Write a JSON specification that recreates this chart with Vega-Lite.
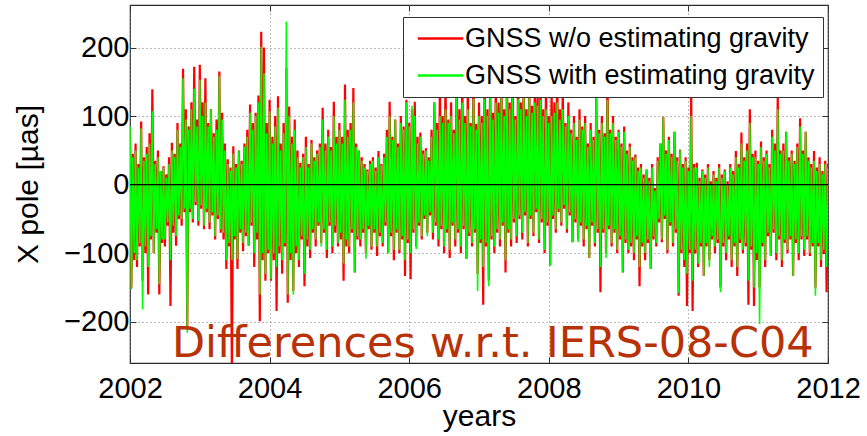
{
"$schema": "https://vega.github.io/schema/vega-lite/v6.json",
"width": 698, "height": 358,
"autosize": {"type": "none"},
"padding": {"left": 130, "top": 5, "right": 39, "bottom": 73},
"background": "white",
"config": {"view": {"stroke": "#2a2a2a", "strokeWidth": 1.2}, "font": "Liberation Sans"},
"data": {"values": [
{"t":2002.00,"r":78,"g":85},{"t":2002.04,"r":45,"g":40},{"t":2002.08,"r":60,"g":50},{"t":2002.12,"r":30,"g":25},{"t":2002.16,"r":92,"g":82},
{"t":2002.20,"r":40,"g":35},{"t":2002.24,"r":55,"g":45},{"t":2002.28,"r":75,"g":60},{"t":2002.32,"r":139,"g":107},{"t":2002.36,"r":35,"g":30},
{"t":2002.40,"r":50,"g":40},{"t":2002.44,"r":20,"g":20},{"t":2002.48,"r":27,"g":25},{"t":2002.52,"r":15,"g":10},{"t":2002.56,"r":40,"g":30},
{"t":2002.60,"r":61,"g":50},{"t":2002.64,"r":45,"g":40},{"t":2002.68,"r":90,"g":80},{"t":2002.72,"r":60,"g":55},{"t":2002.76,"r":169,"g":155},
{"t":2002.80,"r":110,"g":95},{"t":2002.84,"r":85,"g":80},{"t":2002.88,"r":120,"g":110},{"t":2002.92,"r":172,"g":140},{"t":2002.96,"r":95,"g":85},
{"t":2003.00,"r":175,"g":153},{"t":2003.04,"r":120,"g":100},{"t":2003.08,"r":155,"g":120},{"t":2003.12,"r":90,"g":85},{"t":2003.16,"r":110,"g":110},
{"t":2003.20,"r":75,"g":70},{"t":2003.24,"r":95,"g":80},{"t":2003.28,"r":165,"g":158},{"t":2003.32,"r":105,"g":95},{"t":2003.36,"r":60,"g":50},
{"t":2003.40,"r":37,"g":30},{"t":2003.44,"r":25,"g":20},{"t":2003.48,"r":56,"g":45},{"t":2003.52,"r":30,"g":25},{"t":2003.56,"r":50,"g":49},
{"t":2003.60,"r":35,"g":30},{"t":2003.64,"r":60,"g":55},{"t":2003.68,"r":80,"g":70},{"t":2003.72,"r":117,"g":105},{"t":2003.76,"r":90,"g":80},
{"t":2003.80,"r":105,"g":100},{"t":2003.84,"r":130,"g":120},{"t":2003.88,"r":223,"g":201},{"t":2003.92,"r":200,"g":162},{"t":2003.96,"r":90,"g":75},
{"t":2004.00,"r":124,"g":107},{"t":2004.04,"r":70,"g":60},{"t":2004.08,"r":100,"g":85},{"t":2004.12,"r":129,"g":112},{"t":2004.16,"r":60,"g":50},
{"t":2004.20,"r":90,"g":75},{"t":2004.24,"r":170,"g":238},{"t":2004.28,"r":114,"g":100},{"t":2004.32,"r":70,"g":60},{"t":2004.36,"r":95,"g":80},
{"t":2004.40,"r":50,"g":40},{"t":2004.44,"r":32,"g":25},{"t":2004.48,"r":45,"g":40},{"t":2004.52,"r":70,"g":55},{"t":2004.56,"r":30,"g":25},
{"t":2004.60,"r":65,"g":60},{"t":2004.64,"r":40,"g":35},{"t":2004.68,"r":50,"g":45},{"t":2004.72,"r":60,"g":55},{"t":2004.76,"r":112,"g":95},
{"t":2004.80,"r":60,"g":50},{"t":2004.84,"r":80,"g":70},{"t":2004.88,"r":55,"g":50},{"t":2004.92,"r":121,"g":100},{"t":2004.96,"r":70,"g":60},
{"t":2005.00,"r":90,"g":80},{"t":2005.04,"r":70,"g":60},{"t":2005.08,"r":146,"g":124},{"t":2005.12,"r":80,"g":70},{"t":2005.16,"r":90,"g":80},
{"t":2005.20,"r":141,"g":120},{"t":2005.24,"r":60,"g":55},{"t":2005.28,"r":50,"g":50},{"t":2005.32,"r":40,"g":35},{"t":2005.36,"r":30,"g":25},
{"t":2005.40,"r":22,"g":20},{"t":2005.44,"r":35,"g":30},{"t":2005.48,"r":40,"g":35},{"t":2005.52,"r":25,"g":20},{"t":2005.56,"r":49,"g":40},
{"t":2005.60,"r":30,"g":28},{"t":2005.64,"r":45,"g":40},{"t":2005.68,"r":80,"g":70},{"t":2005.72,"r":121,"g":100},{"t":2005.76,"r":70,"g":65},
{"t":2005.80,"r":95,"g":95},{"t":2005.84,"r":60,"g":55},{"t":2005.88,"r":100,"g":90},{"t":2005.92,"r":85,"g":80},{"t":2005.96,"r":124,"g":120},
{"t":2006.00,"r":90,"g":85},{"t":2006.04,"r":110,"g":115},{"t":2006.08,"r":121,"g":100},{"t":2006.12,"r":70,"g":60},{"t":2006.16,"r":76,"g":70},
{"t":2006.20,"r":50,"g":45},{"t":2006.24,"r":53,"g":50},{"t":2006.28,"r":40,"g":35},{"t":2006.32,"r":80,"g":70},{"t":2006.36,"r":120,"g":120},
{"t":2006.40,"r":90,"g":80},{"t":2006.44,"r":150,"g":100},{"t":2006.48,"r":100,"g":90},{"t":2006.52,"r":160,"g":110},{"t":2006.56,"r":95,"g":90},
{"t":2006.60,"r":120,"g":100},{"t":2006.64,"r":80,"g":75},{"t":2006.68,"r":170,"g":130},{"t":2006.72,"r":110,"g":95},{"t":2006.76,"r":160,"g":120},
{"t":2006.80,"r":100,"g":90},{"t":2006.84,"r":150,"g":110},{"t":2006.88,"r":90,"g":85},{"t":2006.92,"r":160,"g":125},{"t":2006.96,"r":89,"g":80},
{"t":2007.00,"r":120,"g":100},{"t":2007.04,"r":100,"g":90},{"t":2007.08,"r":170,"g":125},{"t":2007.12,"r":110,"g":100},{"t":2007.16,"r":160,"g":130},
{"t":2007.20,"r":105,"g":95},{"t":2007.24,"r":150,"g":120},{"t":2007.28,"r":120,"g":105},{"t":2007.32,"r":180,"g":136},{"t":2007.36,"r":110,"g":100},
{"t":2007.40,"r":170,"g":130},{"t":2007.44,"r":120,"g":110},{"t":2007.48,"r":180,"g":136},{"t":2007.52,"r":100,"g":95},{"t":2007.56,"r":160,"g":125},
{"t":2007.60,"r":120,"g":110},{"t":2007.64,"r":180,"g":136},{"t":2007.68,"r":110,"g":100},{"t":2007.72,"r":160,"g":130},{"t":2007.76,"r":115,"g":105},
{"t":2007.80,"r":150,"g":120},{"t":2007.84,"r":130,"g":115},{"t":2007.88,"r":160,"g":124},{"t":2007.92,"r":110,"g":100},{"t":2007.96,"r":150,"g":110},
{"t":2008.00,"r":100,"g":90},{"t":2008.04,"r":140,"g":100},{"t":2008.08,"r":120,"g":105},{"t":2008.12,"r":170,"g":120},{"t":2008.16,"r":110,"g":95},
{"t":2008.20,"r":140,"g":110},{"t":2008.24,"r":90,"g":85},{"t":2008.28,"r":120,"g":100},{"t":2008.32,"r":80,"g":75},{"t":2008.36,"r":100,"g":90},
{"t":2008.40,"r":70,"g":65},{"t":2008.44,"r":110,"g":95},{"t":2008.48,"r":85,"g":80},{"t":2008.52,"r":100,"g":90},{"t":2008.56,"r":60,"g":55},
{"t":2008.60,"r":90,"g":80},{"t":2008.64,"r":70,"g":65},{"t":2008.68,"r":130,"g":140},{"t":2008.72,"r":80,"g":75},{"t":2008.76,"r":100,"g":90},
{"t":2008.80,"r":75,"g":70},{"t":2008.84,"r":170,"g":124},{"t":2008.88,"r":80,"g":75},{"t":2008.92,"r":100,"g":90},{"t":2008.96,"r":70,"g":65},
{"t":2009.00,"r":80,"g":77},{"t":2009.04,"r":60,"g":55},{"t":2009.08,"r":85,"g":77},{"t":2009.12,"r":50,"g":45},{"t":2009.16,"r":60,"g":55},
{"t":2009.20,"r":40,"g":35},{"t":2009.24,"r":44,"g":40},{"t":2009.28,"r":25,"g":20},{"t":2009.32,"r":30,"g":25},{"t":2009.36,"r":15,"g":10},
{"t":2009.40,"r":22,"g":22},{"t":2009.44,"r":10,"g":5},{"t":2009.48,"r":30,"g":25},{"t":2009.52,"r":-5,"g":-9},{"t":2009.56,"r":40,"g":35},
{"t":2009.60,"r":60,"g":60},{"t":2009.64,"r":99,"g":99},{"t":2009.68,"r":50,"g":45},{"t":2009.72,"r":70,"g":65},{"t":2009.76,"r":45,"g":40},
{"t":2009.80,"r":77,"g":77},{"t":2009.84,"r":40,"g":35},{"t":2009.88,"r":51,"g":50},{"t":2009.92,"r":30,"g":25},{"t":2009.96,"r":40,"g":35},
{"t":2010.00,"r":25,"g":20},{"t":2010.04,"r":135,"g":100},{"t":2010.08,"r":30,"g":25},{"t":2010.12,"r":32,"g":25},{"t":2010.16,"r":10,"g":5},
{"t":2010.20,"r":22,"g":20},{"t":2010.24,"r":15,"g":10},{"t":2010.28,"r":30,"g":25},{"t":2010.32,"r":5,"g":0},{"t":2010.36,"r":20,"g":15},
{"t":2010.40,"r":10,"g":5},{"t":2010.44,"r":30,"g":25},{"t":2010.48,"r":15,"g":10},{"t":2010.52,"r":22,"g":20},{"t":2010.56,"r":5,"g":0},
{"t":2010.60,"r":30,"g":25},{"t":2010.64,"r":20,"g":15},{"t":2010.68,"r":49,"g":40},{"t":2010.72,"r":30,"g":25},{"t":2010.76,"r":76,"g":60},
{"t":2010.80,"r":40,"g":35},{"t":2010.84,"r":60,"g":50},{"t":2010.88,"r":110,"g":90},{"t":2010.92,"r":45,"g":40},{"t":2010.96,"r":50,"g":40},
{"t":2011.00,"r":35,"g":30},{"t":2011.04,"r":63,"g":55},{"t":2011.08,"r":40,"g":35},{"t":2011.12,"r":50,"g":45},{"t":2011.16,"r":30,"g":25},
{"t":2011.20,"r":80,"g":70},{"t":2011.24,"r":60,"g":50},{"t":2011.28,"r":127,"g":110},{"t":2011.32,"r":50,"g":45},{"t":2011.36,"r":60,"g":50},
{"t":2011.40,"r":77,"g":77},{"t":2011.44,"r":40,"g":35},{"t":2011.48,"r":50,"g":45},{"t":2011.52,"r":35,"g":30},{"t":2011.56,"r":60,"g":55},
{"t":2011.60,"r":97,"g":85},{"t":2011.64,"r":50,"g":45},{"t":2011.68,"r":77,"g":77},{"t":2011.72,"r":40,"g":35},{"t":2011.76,"r":30,"g":25},
{"t":2011.80,"r":49,"g":35},{"t":2011.84,"r":25,"g":20},{"t":2011.88,"r":40,"g":30},{"t":2011.92,"r":20,"g":15},{"t":2011.96,"r":35,"g":30},
{"t":2012.00,"r":30,"g":25},
{"t":2002.02,"r":-150,"g":-153},{"t":2002.06,"r":-110,"g":-100},{"t":2002.10,"r":-120,"g":-110},{"t":2002.14,"r":-90,"g":-85},{"t":2002.18,"r":-140,"g":-182},
{"t":2002.22,"r":-100,"g":-90},{"t":2002.26,"r":-160,"g":-120},{"t":2002.30,"r":-80,"g":-75},{"t":2002.34,"r":-100,"g":-100},{"t":2002.38,"r":-70,"g":-65},
{"t":2002.42,"r":-160,"g":-145},{"t":2002.46,"r":-85,"g":-80},{"t":2002.50,"r":-90,"g":-80},{"t":2002.54,"r":-60,"g":-55},{"t":2002.58,"r":-177,"g":-110},
{"t":2002.62,"r":-70,"g":-60},{"t":2002.66,"r":-89,"g":-75},{"t":2002.70,"r":-50,"g":-45},{"t":2002.74,"r":-60,"g":-50},{"t":2002.78,"r":-40,"g":-35},
{"t":2002.82,"r":-210,"g":-216},{"t":2002.86,"r":-40,"g":-35},{"t":2002.90,"r":-55,"g":-50},{"t":2002.94,"r":-30,"g":-25},{"t":2002.98,"r":-60,"g":-53},
{"t":2003.02,"r":-35,"g":-30},{"t":2003.06,"r":-65,"g":-60},{"t":2003.10,"r":-40,"g":-35},{"t":2003.14,"r":-65,"g":-55},{"t":2003.18,"r":-45,"g":-40},
{"t":2003.22,"r":-80,"g":-75},{"t":2003.26,"r":-50,"g":-45},{"t":2003.30,"r":-70,"g":-65},{"t":2003.34,"r":-80,"g":-70},{"t":2003.38,"r":-123,"g":-110},
{"t":2003.42,"r":-90,"g":-85},{"t":2003.46,"r":-275,"g":-110},{"t":2003.50,"r":-80,"g":-75},{"t":2003.54,"r":-123,"g":-108},{"t":2003.58,"r":-70,"g":-65},
{"t":2003.62,"r":-97,"g":-85},{"t":2003.66,"r":-75,"g":-70},{"t":2003.70,"r":-89,"g":-89},{"t":2003.74,"r":-60,"g":-55},{"t":2003.78,"r":-120,"g":-100},
{"t":2003.82,"r":-80,"g":-70},{"t":2003.86,"r":-199,"g":-160},{"t":2003.90,"r":-110,"g":-100},{"t":2003.94,"r":-140,"g":-130},{"t":2003.98,"r":-100,"g":-95},
{"t":2004.02,"r":-140,"g":-138},{"t":2004.06,"r":-110,"g":-100},{"t":2004.10,"r":-184,"g":-120},{"t":2004.14,"r":-100,"g":-90},{"t":2004.18,"r":-130,"g":-110},
{"t":2004.22,"r":-90,"g":-85},{"t":2004.26,"r":-172,"g":-160},{"t":2004.30,"r":-110,"g":-100},{"t":2004.34,"r":-155,"g":-160},{"t":2004.38,"r":-100,"g":-90},
{"t":2004.42,"r":-120,"g":-110},{"t":2004.46,"r":-80,"g":-75},{"t":2004.50,"r":-148,"g":-130},{"t":2004.54,"r":-90,"g":-80},{"t":2004.58,"r":-107,"g":-95},
{"t":2004.62,"r":-70,"g":-65},{"t":2004.66,"r":-90,"g":-80},{"t":2004.70,"r":-60,"g":-55},{"t":2004.74,"r":-85,"g":-90},{"t":2004.78,"r":-70,"g":-65},
{"t":2004.82,"r":-107,"g":-95},{"t":2004.86,"r":-60,"g":-55},{"t":2004.90,"r":-100,"g":-90},{"t":2004.94,"r":-70,"g":-60},{"t":2004.98,"r":-90,"g":-85},
{"t":2005.02,"r":-80,"g":-70},{"t":2005.06,"r":-140,"g":-115},{"t":2005.10,"r":-90,"g":-80},{"t":2005.14,"r":-100,"g":-90},{"t":2005.18,"r":-70,"g":-65},
{"t":2005.22,"r":-128,"g":-128},{"t":2005.26,"r":-80,"g":-75},{"t":2005.30,"r":-90,"g":-80},{"t":2005.34,"r":-70,"g":-65},{"t":2005.38,"r":-100,"g":-108},
{"t":2005.42,"r":-65,"g":-60},{"t":2005.46,"r":-95,"g":-90},{"t":2005.50,"r":-70,"g":-65},{"t":2005.54,"r":-104,"g":-90},{"t":2005.58,"r":-75,"g":-70},
{"t":2005.62,"r":-90,"g":-85},{"t":2005.66,"r":-60,"g":-55},{"t":2005.70,"r":-100,"g":-100},{"t":2005.74,"r":-75,"g":-70},{"t":2005.78,"r":-110,"g":-95},
{"t":2005.82,"r":-70,"g":-65},{"t":2005.86,"r":-100,"g":-95},{"t":2005.90,"r":-80,"g":-75},{"t":2005.94,"r":-133,"g":-110},{"t":2005.98,"r":-85,"g":-80},
{"t":2006.02,"r":-138,"g":-100},{"t":2006.06,"r":-70,"g":-65},{"t":2006.10,"r":-90,"g":-94},{"t":2006.14,"r":-60,"g":-55},{"t":2006.18,"r":-80,"g":-75},
{"t":2006.22,"r":-50,"g":-45},{"t":2006.26,"r":-70,"g":-75},{"t":2006.30,"r":-45,"g":-40},{"t":2006.34,"r":-80,"g":-70},{"t":2006.38,"r":-60,"g":-55},
{"t":2006.42,"r":-90,"g":-80},{"t":2006.46,"r":-65,"g":-60},{"t":2006.50,"r":-100,"g":-90},{"t":2006.54,"r":-70,"g":-65},{"t":2006.58,"r":-107,"g":-95},
{"t":2006.62,"r":-60,"g":-55},{"t":2006.66,"r":-90,"g":-80},{"t":2006.70,"r":-70,"g":-65},{"t":2006.74,"r":-100,"g":-90},{"t":2006.78,"r":-65,"g":-60},
{"t":2006.82,"r":-108,"g":-108},{"t":2006.86,"r":-75,"g":-70},{"t":2006.90,"r":-90,"g":-85},{"t":2006.94,"r":-70,"g":-65},{"t":2006.98,"r":-130,"g":-155},
{"t":2007.02,"r":-85,"g":-80},{"t":2007.06,"r":-175,"g":-120},{"t":2007.10,"r":-90,"g":-85},{"t":2007.14,"r":-140,"g":-148},{"t":2007.18,"r":-80,"g":-75},
{"t":2007.22,"r":-100,"g":-90},{"t":2007.26,"r":-70,"g":-65},{"t":2007.30,"r":-90,"g":-80},{"t":2007.34,"r":-60,"g":-55},{"t":2007.38,"r":-128,"g":-110},
{"t":2007.42,"r":-70,"g":-65},{"t":2007.46,"r":-90,"g":-80},{"t":2007.50,"r":-55,"g":-50},{"t":2007.54,"r":-85,"g":-75},{"t":2007.58,"r":-50,"g":-45},
{"t":2007.62,"r":-80,"g":-70},{"t":2007.66,"r":-45,"g":-40},{"t":2007.70,"r":-90,"g":-85},{"t":2007.74,"r":-50,"g":-45},{"t":2007.78,"r":-75,"g":-70},
{"t":2007.82,"r":-40,"g":-35},{"t":2007.86,"r":-85,"g":-80},{"t":2007.90,"r":-55,"g":-50},{"t":2007.94,"r":-100,"g":-95},{"t":2007.98,"r":-60,"g":-55},
{"t":2008.02,"r":-118,"g":-118},{"t":2008.06,"r":-50,"g":-45},{"t":2008.10,"r":-70,"g":-65},{"t":2008.14,"r":-40,"g":-35},{"t":2008.18,"r":-60,"g":-55},
{"t":2008.22,"r":-35,"g":-30},{"t":2008.26,"r":-70,"g":-65},{"t":2008.30,"r":-45,"g":-40},{"t":2008.34,"r":-84,"g":-84},{"t":2008.38,"r":-55,"g":-50},
{"t":2008.42,"r":-80,"g":-84},{"t":2008.46,"r":-60,"g":-55},{"t":2008.50,"r":-90,"g":-80},{"t":2008.54,"r":-65,"g":-60},{"t":2008.58,"r":-107,"g":-107},
{"t":2008.62,"r":-60,"g":-55},{"t":2008.66,"r":-90,"g":-85},{"t":2008.70,"r":-70,"g":-65},{"t":2008.74,"r":-157,"g":-120},{"t":2008.78,"r":-70,"g":-65},
{"t":2008.82,"r":-100,"g":-107},{"t":2008.86,"r":-65,"g":-60},{"t":2008.90,"r":-90,"g":-85},{"t":2008.94,"r":-70,"g":-65},{"t":2008.98,"r":-100,"g":-95},
{"t":2009.02,"r":-80,"g":-75},{"t":2009.06,"r":-128,"g":-128},{"t":2009.10,"r":-85,"g":-80},{"t":2009.14,"r":-100,"g":-95},{"t":2009.18,"r":-90,"g":-85},
{"t":2009.22,"r":-110,"g":-100},{"t":2009.26,"r":-80,"g":-75},{"t":2009.30,"r":-148,"g":-120},{"t":2009.34,"r":-90,"g":-85},{"t":2009.38,"r":-110,"g":-100},
{"t":2009.42,"r":-85,"g":-80},{"t":2009.46,"r":-123,"g":-123},{"t":2009.50,"r":-80,"g":-75},{"t":2009.54,"r":-90,"g":-85},{"t":2009.58,"r":-55,"g":-50},
{"t":2009.62,"r":-84,"g":-80},{"t":2009.66,"r":-50,"g":-45},{"t":2009.70,"r":-100,"g":-95},{"t":2009.74,"r":-60,"g":-55},{"t":2009.78,"r":-90,"g":-85},
{"t":2009.82,"r":-70,"g":-65},{"t":2009.86,"r":-162,"g":-158},{"t":2009.90,"r":-100,"g":-95},{"t":2009.94,"r":-120,"g":-110},{"t":2009.98,"r":-177,"g":-130},
{"t":2010.02,"r":-100,"g":-95},{"t":2010.06,"r":-184,"g":-140},{"t":2010.10,"r":-100,"g":-95},{"t":2010.14,"r":-120,"g":-115},{"t":2010.18,"r":-90,"g":-85},
{"t":2010.22,"r":-133,"g":-133},{"t":2010.26,"r":-90,"g":-85},{"t":2010.30,"r":-110,"g":-120},{"t":2010.34,"r":-80,"g":-75},{"t":2010.38,"r":-100,"g":-90},
{"t":2010.42,"r":-85,"g":-80},{"t":2010.46,"r":-150,"g":-157},{"t":2010.50,"r":-90,"g":-85},{"t":2010.54,"r":-110,"g":-100},{"t":2010.58,"r":-80,"g":-75},
{"t":2010.62,"r":-120,"g":-110},{"t":2010.66,"r":-90,"g":-85},{"t":2010.70,"r":-133,"g":-120},{"t":2010.74,"r":-85,"g":-80},{"t":2010.78,"r":-100,"g":-95},
{"t":2010.82,"r":-90,"g":-85},{"t":2010.86,"r":-175,"g":-140},{"t":2010.90,"r":-95,"g":-90},{"t":2010.94,"r":-177,"g":-150},{"t":2010.98,"r":-110,"g":-100},
{"t":2011.02,"r":-150,"g":-203},{"t":2011.06,"r":-90,"g":-85},{"t":2011.10,"r":-120,"g":-110},{"t":2011.14,"r":-75,"g":-70},{"t":2011.18,"r":-104,"g":-104},
{"t":2011.22,"r":-70,"g":-65},{"t":2011.26,"r":-110,"g":-100},{"t":2011.30,"r":-80,"g":-75},{"t":2011.34,"r":-120,"g":-110},{"t":2011.38,"r":-85,"g":-80},
{"t":2011.42,"r":-100,"g":-95},{"t":2011.46,"r":-80,"g":-75},{"t":2011.50,"r":-133,"g":-133},{"t":2011.54,"r":-85,"g":-80},{"t":2011.58,"r":-110,"g":-100},
{"t":2011.62,"r":-80,"g":-75},{"t":2011.66,"r":-104,"g":-95},{"t":2011.70,"r":-80,"g":-75},{"t":2011.74,"r":-104,"g":-100},{"t":2011.78,"r":-90,"g":-85},
{"t":2011.82,"r":-150,"g":-162},{"t":2011.86,"r":-90,"g":-85},{"t":2011.90,"r":-120,"g":-110},{"t":2011.94,"r":-100,"g":-95},{"t":2011.98,"r":-157,"g":-120}
]},
"layer": [
{
 "transform": [{"fold": ["r", "g"], "as": ["key", "val"]}, {"filter": "datum.key === 'r'"}],
 "mark": {"type": "line", "strokeWidth": 2.2, "clip": true},
 "encoding": {
  "x": {"field": "t", "type": "quantitative", "scale": {"domain": [2002, 2012], "nice": false, "zero": false},
   "axis": {"orient": "bottom", "values": [2002, 2004, 2006, 2008, 2010, 2012], "format": "d", "labelFontSize": 29, "labelColor": "black", "labelFont": "Liberation Sans", "labelFlush": false, "labelOverlap": false, "labelPadding": 17, "domain": false, "tickSize": -6, "tickColor": "#333", "grid": true, "gridDash": [1, 3], "gridColor": "#777", "gridWidth": 1, "title": "years", "titleFontSize": 30, "titleFontWeight": "normal", "titleColor": "black", "titleFont": "Liberation Sans", "titleBaseline": "alphabetic", "titleY": 62}},
  "y": {"field": "val", "type": "quantitative", "scale": {"domain": [-260, 262], "nice": false},
   "axis": {"orient": "left", "values": [-200, -100, 0, 100, 200], "labelFontSize": 29, "labelColor": "black", "labelFont": "Liberation Sans", "labelPadding": 7, "domain": false, "tickSize": -6, "tickColor": "#333", "grid": true, "gridDash": [1, 3], "gridColor": "#777", "gridWidth": 1, "title": "X pole [µas]", "titleFontSize": 30, "titleFontWeight": "normal", "titleColor": "black", "titleFont": "Liberation Sans", "titleX": -102, "titleY": 179, "titleBaseline": "middle", "titleAlign": "center", "titleAngle": -90}},
  "color": {"field": "key", "type": "nominal", "scale": {"domain": ["r", "g"], "range": ["#ff0000", "#00ff00"]},
   "legend": {"orient": "none", "legendX": 273, "legendY": 12, "title": null, "symbolType": "M-2.5,0H2.5", "symbolSize": 330, "symbolOffset": 16, "symbolStrokeWidth": 2.5, "labelFontSize": 27, "labelFont": "Liberation Sans", "labelColor": "black", "labelOffset": 11, "labelLimit": 500, "fillColor": "white", "strokeColor": "#333", "padding": 8, "rowPadding": 9, "labelExpr": "datum.value === 'r' ? 'GNSS w/o estimating gravity' : 'GNSS with estimating gravity'"}}
 }
},
{
 "transform": [{"fold": ["r", "g"], "as": ["key", "val"]}, {"filter": "datum.key === 'g'"}],
 "mark": {"type": "line", "strokeWidth": 1.6, "clip": true},
 "encoding": {
  "x": {"field": "t", "type": "quantitative", "axis": {"orient": "top", "values": [2002, 2004, 2006, 2008, 2010, 2012], "labels": false, "domain": false, "grid": false, "tickSize": -6, "tickColor": "#333", "title": null}},
  "y": {"field": "val", "type": "quantitative", "axis": {"orient": "right", "values": [-200, -100, 0, 100, 200], "labels": false, "domain": false, "grid": false, "tickSize": -6, "tickColor": "#333", "title": null}},
  "color": {"field": "key", "type": "nominal"}
 }
},
{
 "data": {"values": [{"level": 0}]},
 "mark": {"type": "rule", "color": "black", "strokeWidth": 1.2},
 "encoding": {"y": {"field": "level", "type": "quantitative", "axis": null}}
},
{
 "data": {"values": [{"label": "Differences w.r.t. IERS-08-C04", "tx": 2002.6, "ty": -251}]},
 "mark": {"type": "text", "font": "DejaVu Sans", "fontSize": 43, "color": "#b73206", "align": "left", "baseline": "alphabetic"},
 "encoding": {"x": {"field": "tx", "type": "quantitative", "axis": null}, "y": {"field": "ty", "type": "quantitative", "axis": null}, "text": {"field": "label"}}
}
],
"resolve": {"axis": {"x": "independent", "y": "independent"}}
}
